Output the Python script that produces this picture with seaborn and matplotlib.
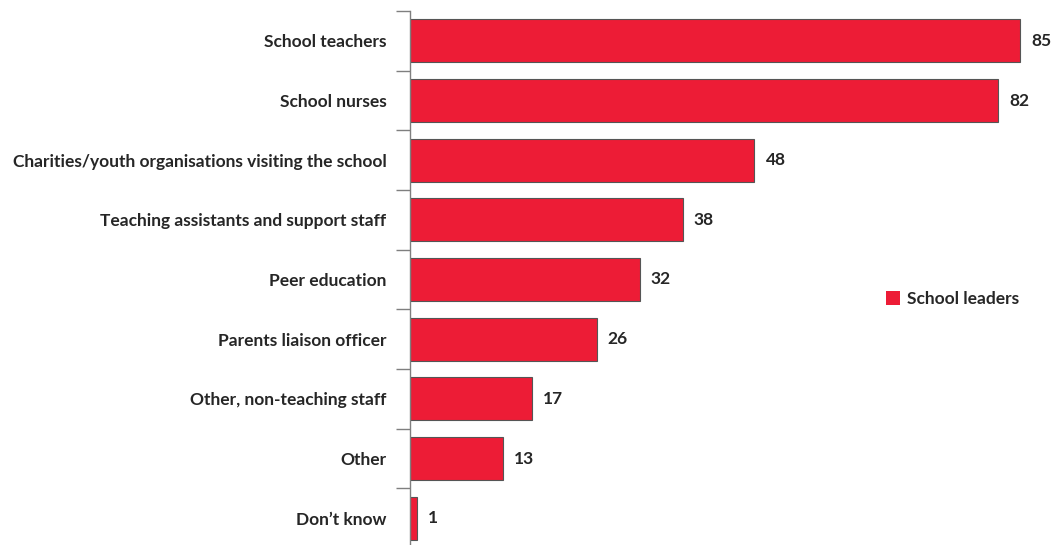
import matplotlib
matplotlib.use("Agg")
import matplotlib.pyplot as plt
from matplotlib.ticker import FixedLocator
import seaborn as sns
import pandas as pd
import numpy as np

categories = [
    "School teachers",
    "School nurses",
    "Charities/youth organisations visiting the school",
    "Teaching assistants and support staff",
    "Peer education",
    "Parents liaison officer",
    "Other, non-teaching staff",
    "Other",
    "Don\u2019t know",
]
values = [85, 82, 48, 38, 32, 26, 17, 13, 1]
series_name = "School leaders"

df = pd.DataFrame({"category": categories, "value": values, "group": series_name})

sns.set_theme(style="white")
plt.rcParams["font.family"] = ["Lato", "DejaVu Sans"]

W, H = 1057, 545
fig = plt.figure(figsize=(W / 100, H / 100), dpi=100)
ax = fig.add_axes([410 / W, (H - 11 - 537) / H, 640 / W, 537 / H])

sns.barplot(
    data=df, y="category", x="value", hue="group", orient="h",
    palette=["#ED1C36"], width=0.72, edgecolor="#555555", linewidth=0.8,
    saturation=1, ax=ax, legend=True,
)

ax.set_xlim(0, 640 / (610 / 85))
ax.set_ylim(len(categories) - 0.5, -0.5)
ax.set_xlabel("")
ax.set_ylabel("")
ax.set_xticks([])

for s in ["top", "right", "bottom"]:
    ax.spines[s].set_visible(False)
ax.spines["left"].set_color("#7f7f7f")
ax.spines["left"].set_linewidth(1.0)

ax.yaxis.set_minor_locator(FixedLocator(np.arange(-0.5, len(categories), 1.0)))
ax.tick_params(axis="y", which="major", length=0, pad=17)
ax.tick_params(axis="y", which="minor", length=10, width=1.0, color="#7f7f7f", left=True)
for lbl in ax.get_yticklabels():
    lbl.set_fontweight("bold")
    lbl.set_fontsize(12.5)
    lbl.set_color("#262626")

for i, v in enumerate(values):
    ax.annotate(str(v), xy=(v, i), xytext=(8, 0), textcoords="offset points",
                va="center", ha="left", fontsize=12.5, fontweight="bold", color="#262626")

leg = ax.legend(loc="center left", bbox_to_anchor=((877 - 410) / 640, 1 - (299 - 11) / 537),
                frameon=False, handlelength=0.85, handleheight=0.85, handletextpad=0.35,
                borderpad=0.0, prop={"weight": "bold", "size": 12.5})
for t in leg.get_texts():
    t.set_color("#262626")
for h in leg.legend_handles:
    h.set_edgecolor("none")

fig.savefig("out.png", dpi=100)
